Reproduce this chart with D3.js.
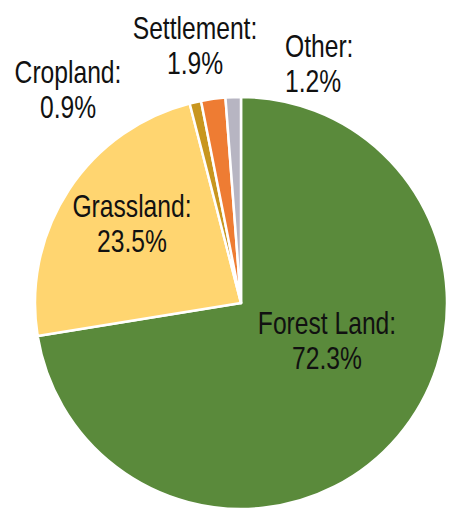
<!DOCTYPE html>
<html>
<head>
<meta charset="utf-8">
<script src="https://cdn.jsdelivr.net/npm/d3@7"></script>
<style>
  body { margin: 0; background: #fff; }
  .lbl { font-family: "Liberation Sans", Arial, sans-serif; font-size: 32px; fill: #111; }
</style>
</head>
<body>
<div id="chart"></div>
<script>
// land use shares, clockwise from 12 o'clock
var categories = ["Forest Land", "Grassland", "Cropland", "Settlement", "Other"];
var shares = [72.3, 23.5, 0.9, 1.9, 1.2];
var labelText = ["72.3%", "23.5%", "0.9%", "1.9%", "1.2%"];

var colors = ["#5a8a3b", "#ffd570", "#c8961f", "#ee7c33", "#b7b5c2"];

var width = 449, height = 513;
var cx = 241, cy = 303, radius = 206;
var squeeze = 0.77; // narrow face is missing, so condense the regular one

// label anchors (center of text block, first baseline)
var labelAnchor = [
  {x: 327, y: 334, anchor: "middle"},
  {x: 132, y: 217, anchor: "middle"},
  {x: 68, y: 83, anchor: "middle"},
  {x: 195, y: 39, anchor: "middle"},
  {x: 285, y: 57, anchor: "start"}
];
var lineGap = 35;

var svg = d3.select("#chart")
  .append("svg")
  .attr("width", width)
  .attr("height", height);

var pieGroup = svg.append("g")
  .attr("transform", `translate(${cx}, ${cy})`);

var pie = d3.pie().sort(null).value(d => d)
var arc = d3.arc().innerRadius(0).outerRadius(radius);

var slices = pieGroup.selectAll("path")
  .data(pie(shares))
  .enter()
  .append("path")
  .attr("d", arc)
  .style("fill", (d, i) => colors[i])
  .style("stroke", "#fff")
  .style("stroke-width", 2.5)
  .style("stroke-linejoin", "round");

var labels = svg.append("g").selectAll("text")
  .data(categories)
  .enter()
  .append("text")
  .classed("lbl", true)
  .attr("transform", (d, i) => `translate(${labelAnchor[i].x}, ${labelAnchor[i].y}) scale(${squeeze}, 1)`)
  .attr("text-anchor", (d, i) => labelAnchor[i].anchor);

labels.append("tspan")
  .attr("x", 0)
  .text(d => d + ":");
labels.append("tspan")
  .attr("x", 0)
  .attr("dy", lineGap)
  .text((d, i) => labelText[i]);
</script>
</body>
</html>
